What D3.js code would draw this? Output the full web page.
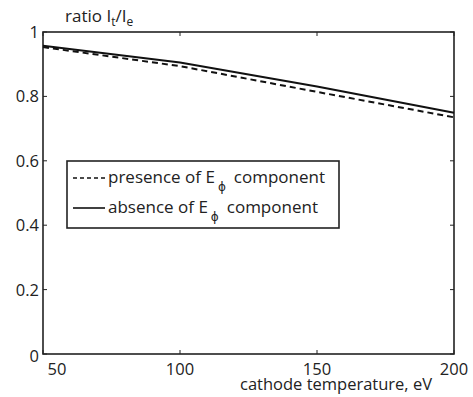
<!DOCTYPE html>
<html>
<head>
<meta charset="utf-8">
<script src="https://cdn.jsdelivr.net/npm/d3@7"></script>
<style>
  body { margin: 0; background: #fff; }
  text { font-family: "Open Sans", sans-serif; fill: #222; }
</style>
</head>
<body>
<svg width="473" height="397"></svg>
<script>
// cathode temperature, eV
var temps = [50, 100, 150, 200];
// ratio It/Ie
var withEphi = [0.953, 0.894, 0.814, 0.735];
var withoutEphi = [0.957, 0.905, 0.831, 0.749];
var xTicks = [50, 100, 150, 200];
var yTicks = [0, 0.2, 0.4, 0.6, 0.8, 1];

var svg = d3.select("svg"),
    margin = {top: 32, right: 19, bottom: 43, left: 43},
    width = 473 - margin.left - margin.right,
    height = 397 - margin.top - margin.bottom;

var x = d3.scaleLinear().domain([50, 200]).range([0, width]);
var y = d3.scaleLinear().domain([0, 1]).range([height, 0]);

var g = svg.append("g")
    .attr("transform", "translate(" + margin.left + "," + margin.top + ")");

// ticks on all four sides, pointing inward
var tk = 4;
g.selectAll(".xt").data(xTicks).enter().append("path")
    .attr("d", d => "M" + x(d) + "," + height + "v" + (-tk) + "M" + x(d) + ",0v" + tk)
    .attr("stroke", "#222").attr("stroke-width", 1);
g.selectAll(".yt").data(yTicks).enter().append("path")
    .attr("d", d => "M0," + y(d) + "h" + tk + "M" + width + "," + y(d) + "h" + (-tk))
    .attr("stroke", "#222").attr("stroke-width", 1);

g.append("rect")
    .attr("width", width).attr("height", height)
    .attr("fill", "none").attr("stroke", "#222").attr("stroke-width", 1.6);

g.selectAll(".xl").data(xTicks).enter().append("text")
    .attr("x", d => x(d) + (d === 50 ? 14 : 0))
    .attr("y", height + 21)
    .attr("text-anchor", "middle")
    .style("font-size", "16.5px")
    .text(d => d);

g.selectAll(".yl").data(yTicks).enter().append("text")
    .attr("x", -4)
    .attr("y", d => y(d) + (d === 0 ? 8 : 6))
    .attr("text-anchor", "end")
    .style("font-size", "16.5px")
    .text(d => d);

g.append("text")
    .attr("x", 197).attr("y", height + 36)
    .style("font-size", "16.5px")
    .text("cathode temperature, eV");

var title = svg.append("text").attr("x", 65).attr("y", 22).style("font-size", "17px");
title.append("tspan").text("ratio I");
title.append("tspan").attr("dy", 4).style("font-size", "12px").text("t");
title.append("tspan").attr("dy", -4).text("/I");
title.append("tspan").attr("dy", 4).style("font-size", "12px").text("e");

var line = d3.line().x(d => x(d[0])).y(d => y(d[1]));

g.append("path")
    .datum(d3.zip(temps, withoutEphi))
    .attr("d", line)
    .attr("fill", "none").attr("stroke", "#111").attr("stroke-width", 2);

g.append("path")
    .datum(d3.zip(temps, withEphi))
    .attr("d", line)
    .attr("fill", "none").attr("stroke", "#111").attr("stroke-width", 2)
    .attr("stroke-dasharray", "6,4");

// legend
var lg = svg.append("g").attr("transform", "translate(67,161)");
lg.append("rect").attr("width", 272).attr("height", 67)
    .attr("fill", "#fff").attr("stroke", "#222").attr("stroke-width", 1.6);

var items = [
  {name: "presence of E", dash: "4,3", yy: 22},
  {name: "absence of E", dash: null, yy: 52}
];
items.forEach(function(it) {
  lg.append("line")
      .attr("x1", 6).attr("x2", 38).attr("y1", it.yy - 5).attr("y2", it.yy - 5)
      .attr("stroke", "#111").attr("stroke-width", 1.6)
      .attr("stroke-dasharray", it.dash);
  var t = lg.append("text").attr("x", 41).attr("y", it.yy).style("font-size", "17px");
  t.append("tspan").text(it.name);
  t.append("tspan").attr("dx", 3).attr("dy", 8)
      .style("font-size", "12px").style("font-family", "DejaVu Sans").style("fill", "#222")
      .text("\u03d5");
  t.append("tspan").attr("dx", 8).attr("dy", -8).text("component");
});
</script>
</body>
</html>
